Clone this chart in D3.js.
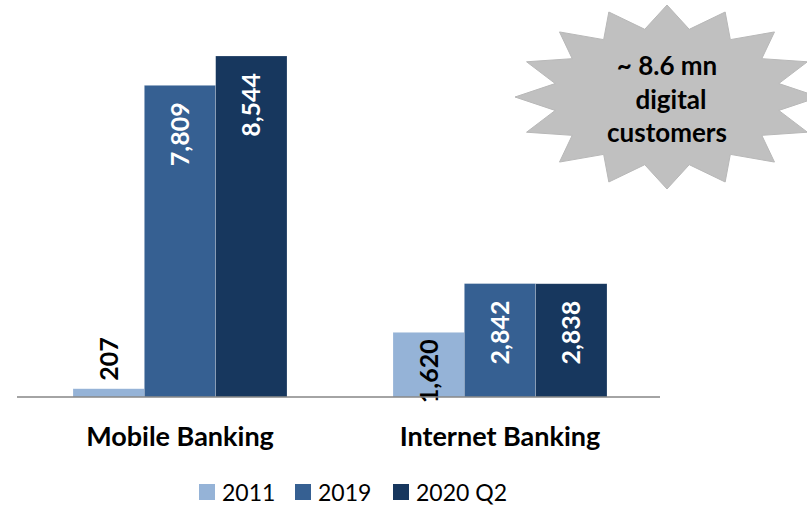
<!DOCTYPE html>
<html>
<head>
<meta charset="utf-8">
<script src="https://cdn.jsdelivr.net/npm/d3@7/dist/d3.min.js"></script>
<style>
  html, body { margin: 0; padding: 0; background: #ffffff; }
  svg { display: block; }
  text { font-family: Lato, "Open Sans", "DejaVu Sans", sans-serif; }
</style>
</head>
<body>
<svg id="chart" width="807" height="506"></svg>
<script>
// Digital banking customers ('000s)
const categories = ["Mobile Banking", "Internet Banking"];
const seriesNames = ["2011", "2019", "2020 Q2"];
const mobileValues = [207, 7809, 8544];
const internetValues = [1620, 2842, 2838];
const seriesColors = ["#95b3d7", "#366092", "#17375e"];
const calloutLines = ["~ 8.6 mn", "digital", "customers"];

const valuesByCategory = [mobileValues, internetValues];
const rows = categories.map((c, i) => ({
  category: c,
  values: seriesNames.map((s, j) => ({ series: s, value: valuesByCategory[i][j] }))
}));

const svg = d3.select("#chart");
const baseY = 397;

const x0 = d3.scaleBand().domain(categories).range([20, 660]);
const x1 = d3.scaleBand().domain(seriesNames).range([53, 267]);
const y = d3.scaleLinear().domain([0, 8544]).range([baseY, 56]);
const color = d3.scaleOrdinal().domain(seriesNames).range(seriesColors);
const fmt = d3.format(",");

// Callout star (16 points), drawn behind the bars
const star = { cx: 667, cy: 97, rx: 152, ry: 92, inner: 0.75, points: 16 };
const starPts = d3.range(star.points * 2).map(k => {
  const a = -Math.PI / 2 + k * Math.PI / star.points;
  const r = k % 2 === 0 ? 1 : star.inner;
  return [star.cx + Math.cos(a) * star.rx * r, star.cy + Math.sin(a) * star.ry * r];
});
svg.append("path")
  .attr("d", d3.line()(starPts) + "Z")
  .attr("fill", "#c0c0c0")
  .attr("stroke", "#b8b8b8")
  .attr("stroke-width", 1);

svg.append("g")
  .selectAll("text")
  .data(calloutLines)
  .join("text")
  .attr("x", (d, i) => i === 1 ? 671 : 667)
  .attr("y", (d, i) => 75 + i * 33.5)
  .attr("text-anchor", "middle")
  .attr("font-size", 26)
  .attr("font-weight", 700)
  .attr("fill", "#000")
  .text(d => d);

// Bars
const groups = svg.append("g")
  .selectAll("g")
  .data(rows)
  .join("g")
  .attr("transform", d => `translate(${x0(d.category)},0)`);

groups.selectAll("rect")
  .data(d => d.values)
  .join("rect")
  .attr("x", d => x1(d.series))
  .attr("y", d => y(d.value))
  .attr("width", x1.bandwidth())
  .attr("height", d => baseY - y(d.value))
  .attr("fill", d => color(d.series))
  .attr("stroke", "rgba(255,255,255,0.35)")
  .attr("stroke-width", 0.6);

// Axis baseline
svg.append("line")
  .attr("x1", 17).attr("x2", 660)
  .attr("y1", baseY).attr("y2", baseY)
  .attr("stroke", "#868686")
  .attr("stroke-width", 1.5);

// Value labels, rotated
const labelSize = 25;
groups.selectAll("text.value")
  .data(d => d.values)
  .join("text")
  .attr("class", "value")
  .attr("font-size", labelSize)
  .attr("font-weight", 700)
  .attr("dy", "0.36em")
  .text(d => fmt(d.value))
  .each(function (d) {
    const t = d3.select(this);
    const len = this.getComputedTextLength();
    const cx = x1(d.series) + x1.bandwidth() / 2;
    const top = y(d.value);
    const h = baseY - top;
    if (h < 30) {
      // too short: place above the bar
      t.attr("transform", `translate(${cx},${top - 8}) rotate(-90)`)
        .attr("text-anchor", "start")
        .attr("fill", "#000");
    } else {
      const inset = h - len > 34 ? 17 : 7;
      t.attr("transform", `translate(${cx},${top + inset}) rotate(-90)`)
        .attr("text-anchor", "end")
        .attr("fill", d.series === "2011" ? "#000" : "#fff");
    }
  });

// Category labels
svg.append("g")
  .selectAll("text")
  .data(categories)
  .join("text")
  .attr("x", d => x0(d) + x0.bandwidth() / 2)
  .attr("y", 446)
  .attr("text-anchor", "middle")
  .attr("font-size", 27)
  .attr("font-weight", 700)
  .attr("fill", "#000")
  .text(d => d);

// Legend
const legendX = [199, 295, 393];
const legend = svg.append("g")
  .selectAll("g")
  .data(seriesNames)
  .join("g")
  .attr("transform", (d, i) => `translate(${legendX[i]},484)`);
legend.append("rect")
  .attr("width", 16).attr("height", 16)
  .attr("fill", d => color(d));
legend.append("text")
  .attr("x", 23).attr("y", 16.5)
  .attr("font-size", 23)
  .attr("fill", "#000")
  .text(d => d);
</script>
</body>
</html>
